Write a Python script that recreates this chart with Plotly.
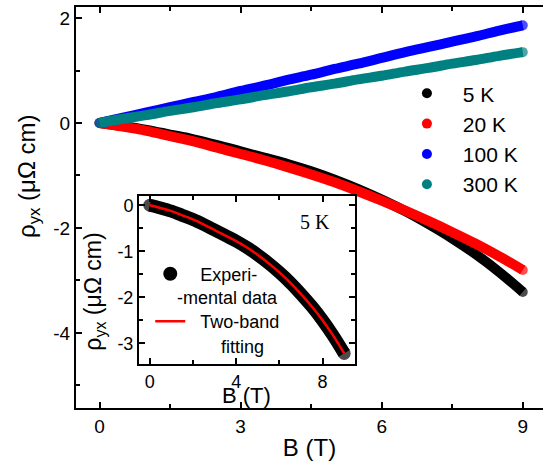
import plotly.graph_objects as go

# ---- data ----
B = [0, 0.5, 1, 1.5, 2, 2.5, 3, 3.5, 4, 4.5, 5, 5.5, 6, 6.5, 7, 7.5, 8, 8.5, 9]
rho_5K = [0, -0.06, -0.13, -0.22, -0.31, -0.42, -0.54, -0.66, -0.78, -0.92,
          -1.08, -1.26, -1.46, -1.68, -1.93, -2.20, -2.50, -2.84, -3.22]
rho_20K = [0, -0.07, -0.15, -0.25, -0.35, -0.47, -0.59, -0.71, -0.84, -0.98,
           -1.13, -1.30, -1.48, -1.67, -1.87, -2.08, -2.30, -2.54, -2.80]
rho_100K = [0, 0.10, 0.20, 0.30, 0.40, 0.50, 0.61, 0.71, 0.82, 0.92,
            1.03, 1.13, 1.24, 1.35, 1.45, 1.55, 1.65, 1.76, 1.86]
rho_300K = [0, 0.08, 0.15, 0.23, 0.30, 0.38, 0.45, 0.53, 0.60, 0.68,
            0.75, 0.83, 0.90, 0.98, 1.05, 1.13, 1.20, 1.28, 1.35]
fit_5K = [0, -0.06, -0.13, -0.22, -0.31, -0.42, -0.54, -0.66, -0.78, -0.92,
          -1.08, -1.26, -1.46, -1.68, -1.93, -2.20, -2.50, -2.84, -3.22]

series_names = ["5 K", "20 K", "100 K", "300 K"]
series_values = [rho_5K, rho_20K, rho_100K, rho_300K]
series_colors = ["#000000", "#ff0000", "#0000ff", "#008080"]

main_xticks = [0, 3, 6, 9]
main_yticks = [2, 0, -2, -4]
main_ytext = ["2", "0", "-2", "-4"]
inset_xticks = [0, 4, 8]
inset_yticks = [0, -1, -2, -3]
inset_ytext = ["0", "-1", "-2", "-3"]

FONT = "Liberation Sans, Arial, sans-serif"
SERIF = "Liberation Serif, Times New Roman, serif"
NB = "\u00a0"
TH = "\u2009"


def end_caps(n, size):
    # round caps only at the two ends of each band
    return [size if i in (0, n - 1) else 0 for i in range(n)]


fig = go.Figure()

# main curves (thick bands of dense points)
for name, vals, col in zip(series_names, series_values, series_colors):
    fig.add_trace(go.Scatter(x=B, y=vals, mode="lines+markers",
                             line=dict(color=col, width=10, shape="spline"),
                             marker=dict(color=col, size=end_caps(len(B), 10),
                                         line=dict(width=0)),
                             showlegend=False, hoverinfo="skip",
                             xaxis="x", yaxis="y"))
# legend entries (dots)
for i, (name, col) in enumerate(zip(series_names, series_colors)):
    fig.add_trace(go.Scatter(x=[None], y=[None], mode="markers",
                             marker=dict(color=col, size=10, line=dict(width=0)),
                             name=NB * 2 + TH + name, legendgroup="g%d" % i,
                             legend="legend", xaxis="x", yaxis="y"))

# inset
fig.add_trace(go.Scatter(x=B, y=rho_5K, mode="lines+markers",
                         line=dict(color="#000000", width=13, shape="spline"),
                         marker=dict(color="#000000", size=end_caps(len(B), 13),
                                     line=dict(width=0)),
                         showlegend=False, hoverinfo="skip",
                         xaxis="x2", yaxis="y2"))
fig.add_trace(go.Scatter(x=B, y=fit_5K, mode="lines",
                         line=dict(color="#ff0000", width=2.5, shape="spline"),
                         showlegend=False, hoverinfo="skip",
                         xaxis="x2", yaxis="y2"))
fig.add_trace(go.Scatter(x=[None], y=[None], mode="markers",
                         marker=dict(color="#000000", size=14, line=dict(width=0)),
                         name=NB * 2 + "Experi-", legend="legend2",
                         legendgroup="a", xaxis="x2", yaxis="y2"))
fig.add_trace(go.Scatter(x=[None], y=[None], mode="lines",
                         line=dict(color="#ff0000", width=2.5),
                         name=NB * 2 + "Two-band", legend="legend2",
                         legendgroup="b", xaxis="x2", yaxis="y2"))

axis_common = dict(showgrid=False, zeroline=False, showline=True,
                   linecolor="black", linewidth=2, ticks="inside",
                   tickcolor="black", tickwidth=2, ticklen=6,
                   tickfont=dict(family=FONT, size=19, color="black"))

fig.update_layout(
    width=543, height=463,
    margin=dict(l=76, r=0, t=7, b=55),
    paper_bgcolor="white", plot_bgcolor="white",
    font=dict(family=FONT, color="black"),
    xaxis=dict(axis_common, domain=[0, 1], range=[-0.5, 9.43],
               tickvals=main_xticks, mirror="ticks", anchor="y",
               minor=dict(dtick=1.5, tick0=0, ticks="inside", ticklen=4,
                          tickwidth=2, tickcolor="black"),
               title=dict(text="B (T)", standoff=3,
                          font=dict(family=FONT, size=24))),
    yaxis=dict(axis_common, domain=[0, 1], range=[-5.43, 2.21],
               tickvals=main_yticks, ticktext=main_ytext, mirror=False,
               anchor="x",
               minor=dict(dtick=1, tick0=0, ticks="inside", ticklen=4,
                          tickwidth=2, tickcolor="black")),
    yaxis3=dict(overlaying="y", side="right", range=[-5.43, 2.21],
                tickvals=main_yticks, showticklabels=False, showline=False,
                showgrid=False, zeroline=False, ticks="inside", ticklen=4,
                tickwidth=2, tickcolor="black", anchor="x"),
    xaxis2=dict(axis_common, domain=[0.1349, 0.5974], range=[-0.5, 9.5],
                tickvals=inset_xticks, mirror="ticks", anchor="y2",
                tickfont=dict(family=FONT, size=18, color="black"),
                minor=dict(dtick=2, tick0=0, ticks="inside", ticklen=4,
                           tickwidth=2, tickcolor="black")),
    yaxis2=dict(axis_common, domain=[0.1097, 0.5287], range=[-3.45, 0.2],
                tickvals=inset_yticks, ticktext=inset_ytext, mirror="ticks",
                anchor="x2",
                tickfont=dict(family=FONT, size=18, color="black"),
                minor=dict(dtick=0.5, tick0=0, ticks="inside", ticklen=4,
                           tickwidth=2, tickcolor="black")),
    legend=dict(x=0.7086, y=0.835, xanchor="left", yanchor="top",
                bgcolor="rgba(0,0,0,0)", borderwidth=0,
                font=dict(family=FONT, size=21, color="black"),
                tracegroupgap=0, itemsizing="trace"),
    legend2=dict(x=0.159, y=0.38, xanchor="left", yanchor="top",
                 bgcolor="rgba(0,0,0,0)", borderwidth=0,
                 font=dict(family=FONT, size=18, color="black"),
                 tracegroupgap=21, itemsizing="trace"),
    annotations=[
        dict(text="ρ<sub>yx</sub> (μΩ cm)", xref="paper", yref="paper",
             x=-0.1006, y=0.5786, xanchor="center", yanchor="middle",
             textangle=-90, showarrow=False, font=dict(family=FONT, size=24)),
        dict(text="-mental data", xref="paper", yref="paper", x=0.212,
             y=0.274, xanchor="left", yanchor="middle", showarrow=False,
             font=dict(family=FONT, size=18)),
        dict(text="fitting", xref="paper", yref="paper", x=0.3576,
             y=0.152, xanchor="center", yanchor="middle", showarrow=False,
             font=dict(family=FONT, size=18)),
        dict(text="5 K", xref="paper", yref="paper", x=0.5118, y=0.4638,
             xanchor="center", yanchor="middle", showarrow=False,
             font=dict(family=SERIF, size=20)),
        dict(text="B (T)", xref="paper", yref="paper", x=0.366, y=0.032,
             xanchor="center", yanchor="middle", showarrow=False,
             font=dict(family=FONT, size=22)),
        dict(text="ρ<sub>yx</sub> (μΩ cm)", xref="paper", yref="paper",
             x=0.0407, y=0.29, xanchor="center", yanchor="middle",
             textangle=-90, showarrow=False, font=dict(family=FONT, size=23)),
    ],
)

fig.write_html("out.html")
